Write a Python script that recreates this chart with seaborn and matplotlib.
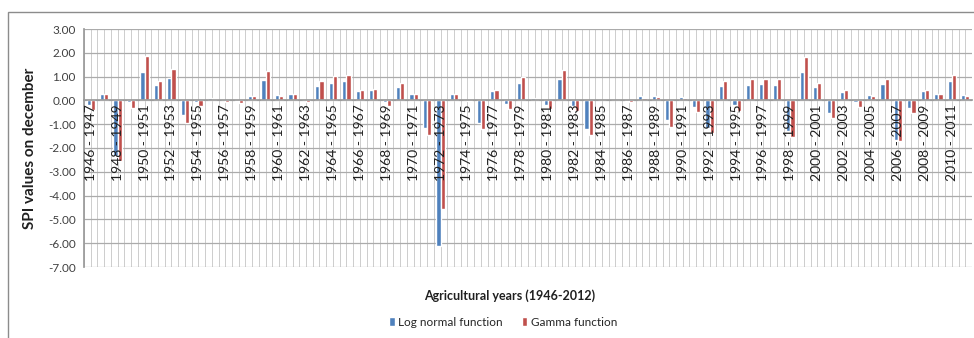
import matplotlib
matplotlib.use("Agg")
import matplotlib.pyplot as plt
from matplotlib.patches import Patch, Rectangle
import seaborn as sns
import pandas as pd

# Agricultural years 1946-1947 ... 2011-2012
start_years = list(range(1946, 2012))
years = [f"{y} - {y + 1}" for y in start_years]

log_normal = [
    -0.20, 0.28, -2.35, -0.05, 1.20, 0.65, 0.95, -0.60, -0.05, 0.12,
    0.03, -0.02, 0.20, 0.85, 0.22, 0.25, 0.00, 0.62, 0.75, 0.80,
    0.40, 0.42, -0.05, 0.55, 0.25, -1.15, -6.10, 0.27, 0.00, -0.95,
    0.40, -0.15, 0.75, 0.12, -0.20, 0.92, -0.22, -1.20, 0.02, 0.02,
    -0.02, 0.17, 0.18, -0.82, 0.15, -0.28, -1.15, 0.62, -0.20, 0.65,
    0.70, 0.65, -1.30, 1.20, 0.58, -0.55, 0.35, -0.05, 0.22, 0.68,
    -1.65, -0.30, 0.40, 0.28, 0.80, 0.22,
]
gamma = [
    -0.42, 0.25, -2.55, -0.30, 1.85, 0.80, 1.33, -0.95, -0.25, 0.07,
    -0.05, -0.10, 0.17, 1.22, 0.20, 0.25, -0.05, 0.82, 1.03, 1.05,
    0.45, 0.47, -0.25, 0.75, 0.25, -1.45, -4.55, 0.27, -0.03, -1.20,
    0.42, -0.38, 1.00, 0.03, -0.35, 1.28, -0.45, -1.45, 0.00, 0.00,
    -0.08, 0.12, 0.13, -1.10, 0.10, -0.50, -1.35, 0.82, -0.45, 0.88,
    0.90, 0.88, -1.55, 1.83, 0.75, -0.72, 0.42, -0.27, 0.18, 0.92,
    -1.70, -0.55, 0.42, 0.28, 1.05, 0.20,
]
series_names = ["Log normal function", "Gamma function"]
y_ticks = [3, 2, 1, 0, -1, -2, -3, -4, -5, -6, -7]

BLUE = "#4F81BD"
RED = "#C0504D"
HGRID = "#ababab"
VGRID = "#cdcdcd"

df = pd.DataFrame({
    "year": years * 2,
    "spi": log_normal + gamma,
    "series": [series_names[0]] * len(years) + [series_names[1]] * len(years),
})

sns.set_theme(style="white")
plt.rcParams["font.family"] = ["Lato", "DejaVu Sans"]

fig = plt.figure(figsize=(9.74, 3.38), dpi=100)
ax = fig.add_axes([84 / 974, 1 - 267 / 338, 888 / 974, 238 / 338])

sns.barplot(data=df, x="year", y="spi", hue="series", order=years,
            hue_order=series_names, palette=[BLUE, RED], width=0.62,
            gap=0, errorbar=None, ax=ax, legend=False, saturation=1)

# category axis crosses the value axis at zero (done first: it rebuilds ticks)
ax.spines["bottom"].set_position(("data", 0))
ax.spines["bottom"].set_color("#9a9a9a")
ax.spines["left"].set_color("#9a9a9a")
ax.spines["top"].set_visible(False)
ax.spines["right"].set_visible(False)

n = len(years)
ax.set_xlim(-0.5, n - 0.5)
ax.set_ylim(-7, 3)
ax.tick_params(axis="both", which="both", length=0)
ax.tick_params(axis="x", pad=3)
ax.tick_params(axis="y", pad=6)

ax.set_yticks(y_ticks)
ax.set_yticklabels([f"{v:.2f}" for v in y_ticks], fontsize=8.5, color="#404040")

# one tick per category, label every other year pair
ax.set_xticks(range(n))
ax.set_xticklabels([lab if i % 2 == 0 else "" for i, lab in enumerate(years)],
                   fontsize=10, color="#202020", rotation=90,
                   va="top", ha="center")

# horizontal grid sits under the bars; the category labels stay on top
ax.yaxis.set_zorder(0.5)
ax.xaxis.set_zorder(3)
ax.grid(True, axis="y", color=HGRID, linewidth=0.9)
ax.grid(False, axis="x")
for k in range(2 * n + 1):
    ax.axvline(-0.5 + k / 2, color=VGRID, linewidth=0.7, zorder=0.4)

ax.set_xlabel("")
ax.set_ylabel("SPI values on december", fontsize=11, fontweight="bold",
              color="#202020")
ax.yaxis.set_label_coords(-0.053, 0.5)

fig.text(510 / 974, 1 - 296 / 338, "Agricultural years (1946-2012)",
         ha="center", va="center", fontsize=9, fontweight="bold",
         color="#202020")

handles = [Patch(facecolor=BLUE), Patch(facecolor=RED)]
fig.legend(handles, series_names, loc="center",
           bbox_to_anchor=(503 / 974, 1 - 322 / 338), ncol=2, frameon=False,
           fontsize=8.5, handlelength=0.5, handleheight=0.8,
           handletextpad=0.3, columnspacing=1.6)

# chart area border
fig.patches.append(Rectangle((8 / 974, -0.05), 1.0, 1 - 12 / 338 + 0.05,
                             transform=fig.transFigure, fill=False,
                             edgecolor="#8c8c8c", linewidth=1.0))

fig.savefig("out.png", dpi=100, facecolor="white")
